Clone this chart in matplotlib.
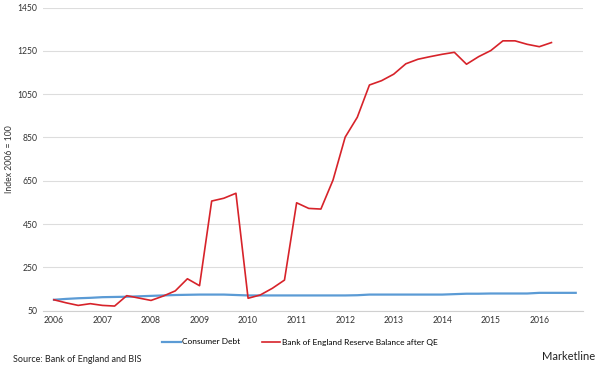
import matplotlib.pyplot as plt

plt.rcParams['font.family'] = ['Lato', 'DejaVu Sans']

# quarterly index, 2006 Q1 = first point
years = [2006, 2007, 2008, 2009, 2010, 2011, 2012, 2013, 2014, 2015, 2016]
consumer_debt = [100, 104, 107, 109, 112, 113, 114, 116, 118, 120, 122, 123,
                 124, 124, 124, 122, 120, 120, 120, 120, 120, 120, 120, 120,
                 120, 121, 124, 124, 124, 124, 124, 124, 124, 126, 128, 128,
                 129, 129, 129, 129, 132, 132, 132, 132]
boe_reserves = [100, 86, 74, 82, 74, 71, 119, 108, 97, 117, 141, 197,
                165, 556, 569, 592, 107, 122, 153, 191, 548, 522, 519, 653,
                851, 943, 1092, 1112, 1142, 1190, 1211, 1223, 1234, 1243, 1188, 1223,
                1251, 1296, 1296, 1280, 1269, 1288]

fig = plt.figure(figsize=(6, 3.69), dpi=100)
ax = fig.add_axes([43 / 600, 1 - 310.6 / 369, 540 / 600, 303.1 / 369])

ax.plot(range(len(consumer_debt)), consumer_debt, color='#5B9BD5', lw=1.6,
        label='Consumer Debt')
ax.plot(range(len(boe_reserves)), boe_reserves, color='#D7232A', lw=1.2,
        label='Bank of England Reserve Balance after QE')

ax.set_ylim(50, 1450)
ax.set_yticks(range(50, 1451, 200))
ax.set_xlim(-0.9, 43.6)
ax.set_xticks([4 * i for i in range(len(years))])
ax.set_xticklabels([str(y) for y in years])
ax.tick_params(length=0, labelsize=6.2, colors='#333333', pad=4)
ax.grid(axis='y', color='#dddddd', lw=0.8)
ax.set_axisbelow(True)
for s in ['top', 'right', 'left']:
    ax.spines[s].set_visible(False)
ax.spines['bottom'].set_color('#d0d0d0')
ax.set_ylabel('Index 2006 = 100', fontsize=6.2, color='#333333')
ax.yaxis.set_label_coords(-0.054, 0.5)

fig.legend(loc='center', bbox_to_anchor=(0.5, 1 - 342 / 369), ncol=2,
           frameon=False, fontsize=6, handlelength=2.2, handletextpad=0.2,
           columnspacing=2.6)

fig.text(13 / 600, 1 - 360 / 369, 'Source: Bank of England and BIS',
         fontsize=6.5, color='#222222', va='center')
fig.text(595 / 600, 1 - 356 / 369, 'Marketline', fontsize=8, color='#222222',
         ha='right', va='center')

fig.savefig('out.png', dpi=100)
